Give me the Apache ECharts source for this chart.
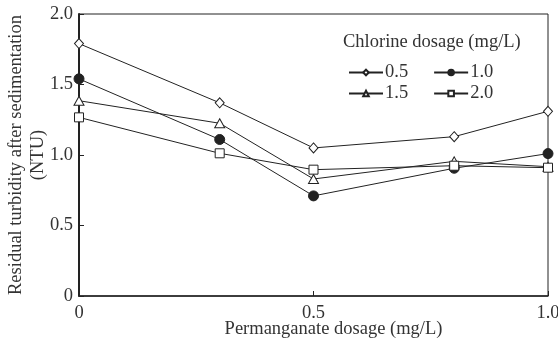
<!DOCTYPE html>
<html><head><meta charset="utf-8">
<script src="https://cdn.jsdelivr.net/npm/echarts@6/dist/echarts.min.js"></script>
<style>html,body{margin:0;padding:0;background:#fff}#c{width:558px;height:342px}</style>
</head><body><div id="c"></div>
<script>
var xValues = [0, 0.3, 0.5, 0.8, 1.0];
var seriesNames = ['0.5', '1.0', '1.5', '2.0'];
var chlorine05 = [1.79, 1.37, 1.05, 1.13, 1.31];
var chlorine10 = [1.54, 1.11, 0.71, 0.906, 1.01];
var chlorine15 = [1.385, 1.225, 0.83, 0.955, 0.917];
var chlorine20 = [1.267, 1.012, 0.896, 0.924, 0.91];
var xTicks = [0, 0.5, 1.0];
var yTicks = [0, 0.5, 1.0, 1.5, 2.0];

var FONT = "'Liberation Serif','Times New Roman',serif";
var FS = 18.5;
var INK = '#222';
var TXT = '#333';

function pairs(ys){ return xValues.map(function(x,i){ return [x, ys[i]]; }); }
function fmt(v){ return v === 0 ? '0' : v.toFixed(1); }

var styles = [
  {symbol:'diamond', size:[9,10], fill:'#fff'},
  {symbol:'circle', size:10, fill:INK},
  {symbol:'triangle', size:[10,9], fill:'#fff'},
  {symbol:'rect', size:[9,9], fill:'#fff'}
];
var allData = [chlorine05, chlorine10, chlorine15, chlorine20];

var series = allData.map(function(d, i){
  return {
    name: seriesNames[i], type:'line', data: pairs(d),
    symbol: styles[i].symbol, symbolSize: styles[i].size, showAllSymbol:true,
    lineStyle:{color:INK, width:1},
    itemStyle:{color:styles[i].fill, borderColor:INK, borderWidth:1},
    emphasis:{disabled:true}, animation:false, z: 3
  };
});

var chart = echarts.init(document.getElementById('c'), null, {renderer:'canvas'});
chart.setOption({
  animation:false,
  textStyle:{fontFamily:FONT},
  grid:{left:79, right:10, top:14, bottom:46, show:true, borderColor:INK, borderWidth:1,
    backgroundColor:'transparent', containLabel:false, outerBoundsMode:'none'},
  xAxis:{
    type:'value', min:0, max:1, interval:0.5,
    name:'Permanganate dosage (mg/L)', nameLocation:'middle', nameGap:24, nameMoveOverlap:false,
    nameTextStyle:{fontFamily:FONT, fontSize:FS, color:TXT, padding:[0,0,0,40]},
    axisLine:{show:true, onZero:false, lineStyle:{color:INK, width:1.5}},
    axisTick:{show:true, inside:true, length:5, lineStyle:{color:INK}},
    axisLabel:{fontFamily:FONT, fontSize:FS, color:TXT, margin:8, formatter:fmt,
      customValues: xTicks},
    splitLine:{show:false}
  },
  yAxis:{
    type:'value', min:0, max:2, interval:0.5,
    name:'Residual turbidity after sedimentation\n(NTU)', nameLocation:'middle', nameGap:30, nameRotate:90,
    nameMoveOverlap:false,
    nameTextStyle:{fontFamily:FONT, fontSize:FS, color:TXT, lineHeight:22},
    axisLine:{show:true, onZero:false, lineStyle:{color:INK, width:2}},
    axisTick:{show:true, inside:true, length:5, lineStyle:{color:INK}},
    axisLabel:{fontFamily:FONT, fontSize:FS, color:TXT, margin:6, formatter:fmt, customValues: yTicks},
    splitLine:{show:false}
  },
  title:{text:'Chlorine dosage (mg/L)', left:343, top:33, padding:0,
    textStyle:{fontFamily:FONT, fontSize:FS, fontWeight:'normal', color:TXT}},
  legend:[
    {data:['0.5','1.0'], left:348, top:63, padding:0, itemGap:25, itemWidth:34, itemHeight:7,
      selectedMode:false, textStyle:{fontFamily:FONT, fontSize:FS, color:TXT, padding:[0,0,0,-3]}},
    {data:['1.5','2.0'], left:348, top:84, padding:0, itemGap:25, itemWidth:34, itemHeight:7,
      selectedMode:false, textStyle:{fontFamily:FONT, fontSize:FS, color:TXT, padding:[0,0,0,-3]}}
  ],
  series: series
});
</script></body></html>
